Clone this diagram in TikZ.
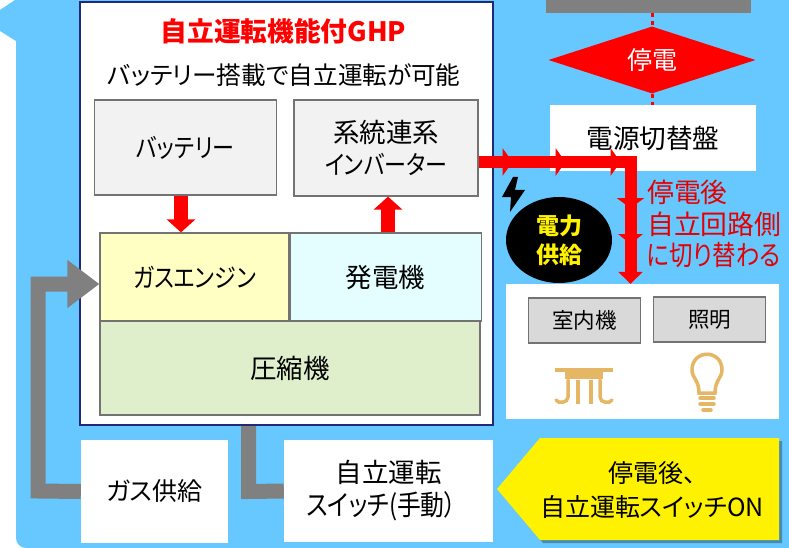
\documentclass[tikz,border=0pt]{standalone}
\usepackage{fontspec}
\setmainfont{Noto Sans CJK JP}[RawFeature={+palt}]
\newfontfamily\narrowjp{Noto Sans CJK JP}[RawFeature={+palt}, FakeStretch=0.85]
\usetikzlibrary{shapes, arrows.meta, positioning, shadows, decorations.markings}
\definecolor{skyback}{HTML}{66C8FF}
\definecolor{frameblue}{HTML}{1F2A78}
\definecolor{iconamber}{HTML}{E5B765}
\definecolor{enginefill}{HTML}{FFFFC4}
\definecolor{dynamofill}{HTML}{E4FEFF}
\definecolor{compfill}{HTML}{DFEFCB}
\begin{document}
\begin{tikzpicture}[
    x=1pt, y=-1pt,
    box/.style={rectangle, draw=black!55, line width=1.2pt, inner sep=0pt, align=center, font=\fontsize{26.5}{32}\selectfont},
    part/.style={box, fill=black!5},
    engine/.style={box, fill=enginefill},
    dynamo/.style={box, fill=dynamofill},
    compressor/.style={box, fill=compfill},
    load/.style={box, fill=black!15, line width=1.6pt, minimum width=112pt, minimum height=45pt, font=\fontsize{21.5}{24}\selectfont},
    whitebox/.style={rectangle, fill=white, inner sep=0pt, align=center, font=\fontsize{25}{33}\selectfont},
    redarrow/.style={draw=red, line width=14pt, -{Triangle[length=13pt, width=28pt]}},
    gasline/.style={draw=black!50, line width=15pt},
    powerline/.style={draw=red, line width=12pt, -{Triangle[length=12pt, width=24pt]}, postaction={decorate}},
    outagelink/.style={draw=red, line width=3pt, dash pattern=on 4pt off 4pt},
    icon/.style={draw=iconamber, line width=3.5pt, line cap=round}
 ]
\useasboundingbox (0,0) rectangle (789,548);

\fill[skyback] (15,0) -- (789,0) -- (789,548) -- (28,548) [rounded corners=10pt] -- (16,548) [sharp corners] -- (16,41) -- (0,31) -- (0,10) -- cycle;

\node[rectangle, draw=frameblue, fill=white, line width=2pt, minimum width=413pt, minimum height=423pt] (Frame) at (286.5,213.5) {};
\node[font=\fontsize{26.7}{30}\bfseries\selectfont, text=red] (Title) at (283.5,31) {自立運転機能付GHP};
\node[font=\fontsize{24.6}{28}\selectfont] (Subtitle) at (284,75) {バッテリー搭載で自立運転が可能};

\node[part, minimum width=182pt, minimum height=95pt, font=\narrowjp\fontsize{25.9}{32}\selectfont] (Battery) at (185.5,147.5) {バッテリー};
\node[part, minimum width=184pt, minimum height=96pt] (Inverter) at (386,148) {系統連系\\\narrowjp\fontsize{25.9}{32}\selectfont インバーター};
\node[engine, minimum width=189pt, minimum height=88pt, font=\narrowjp\fontsize{25.9}{32}\selectfont] (GasEngine) at (194.5,277) {ガスエンジン};
\node[dynamo, minimum width=191pt, minimum height=88pt, right=0pt of GasEngine] (Generator) {発電機};
\node[compressor, minimum width=380pt, minimum height=94pt] (Compressor) at (290,368) {圧縮機};
\draw[redarrow] (Battery.south -| 181,0) -- (GasEngine.north -| 181,0);
\draw[redarrow] (Generator.north -| 388,0) -- (Inverter.south -| 388,0);

\fill[black!50] (546,0) rectangle (751,13);
\coordinate (GridFeed) at (652,13);
\node[diamond, fill=red, text=white, aspect=3.1, minimum width=207pt, minimum height=67pt, inner sep=0pt, font=\fontsize{25}{28}\selectfont] (Outage) at (652,60) {停電};
\node[whitebox, minimum width=206pt, minimum height=66pt, font=\fontsize{26.6}{30}\selectfont] (Switchboard) at (653,138) {電源切替盤};
\draw[outagelink] (GridFeed) -- (Outage.north);
\draw[outagelink] (Outage.south) -- (Switchboard.north -| Outage.south);

\node[whitebox, minimum width=273pt, minimum height=135pt] (Panel) at (642.5,351.5) {};
\node[load] (IndoorUnit) at (584.5,320.5) {室内機};
\node[load] (Lighting) at (709.5,319.5) {照明};

\coordinate (PowerCorner) at (630.5,162);
\draw[powerline, decoration={markings,
    mark=at position 34pt with {\arrow{Triangle[length=10pt, width=27pt]}},
    mark=at position 87pt with {\arrow{Triangle[length=10pt, width=27pt]}},
    mark=at position 142pt with {\arrow{Triangle[length=10pt, width=27pt]}},
    mark=at position 198pt with {\arrow{Triangle[length=10pt, width=27pt]}},
    mark=at position 234pt with {\arrow{Triangle[length=10pt, width=24pt]}}}]
    (Inverter.east |- PowerCorner) -- (PowerCorner) -- (Panel.north -| PowerCorner);

\node[align=left, text=red!90!black, anchor=north west, inner sep=0pt, font=\fontsize{26.8}{31.5}\selectfont] (AfterOutage) at (647,180) {停電後\\自立回路側\\\narrowjp\fontsize{27.6}{31.5}\selectfont に切り替わる};
\node[ellipse, fill=black, text=yellow, minimum width=106pt, minimum height=86pt, inner sep=0pt, align=center, font=\fontsize{23}{29}\bfseries\selectfont] (PowerSupply) at (559,240) {電力\\供給};
\fill[black] (513,177) -- (502,197) -- (511,197) -- (510,212) -- (525,190) -- (515,190) -- (518,177) -- cycle;

% diffuser
\draw[icon, line cap=butt] (555,370) -- (613,370);
\fill[iconamber] (565,371) rectangle (603,379);
\draw[icon] (568,380) -- (568,397) .. controls (568,403) and (558,404) .. (556,400);
\draw[icon, line cap=butt] (578,380) -- (578,404);
\draw[icon, line cap=butt] (591,380) -- (591,404);
\draw[icon] (600,380) -- (600,397) .. controls (600,403) and (610,404) .. (612,400);

% bulb
\draw[icon] (699,393) .. controls (699,380) and (692,378) .. (692,370) .. controls (692,349) and (722,349) .. (722,370) .. controls (722,378) and (715,380) .. (715,393) -- cycle;
\draw[icon] (700,398) -- (714,398);
\draw[icon] (700,404) -- (714,404);
\draw[icon] (703,410) -- (711,410);

\node[whitebox, minimum width=147pt, minimum height=103pt] (GasSupply) at (154.5,491.5) {ガス供給};
\node[whitebox, minimum width=209pt, minimum height=102pt, font=\fontsize{26.5}{33}\selectfont] (ManualSwitch) at (388.5,491) {自立運転\\\narrowjp\fontsize{28}{33}\selectfont スイッチ(手動）\hspace*{14pt}};

\coordinate (GasCorner) at (38,491);
\coordinate (GasRise) at (38,284);
\draw[gasline, -{Triangle[length=32pt, width=46pt]}] (GasSupply.west) -- (GasCorner) -- (GasRise) -- (GasEngine.west |- GasRise);
\coordinate (SwitchCorner) at (248.5,491.5);
\draw[gasline] (Frame.south -| SwitchCorner) -- (SwitchCorner) -- (ManualSwitch.west);

\path[fill=yellow, drop shadow={shadow xshift=3pt, shadow yshift=-3pt, opacity=.3, fill=black}] (497,489) -- (540,438) -- (779,438) -- (779,540) -- (540,540) -- cycle;
\node[align=center, font=\fontsize{25}{34}\selectfont] (SwitchOn) at (652,490) {停電後、\\自立運転スイッチON};

\end{tikzpicture}
\end{document}
